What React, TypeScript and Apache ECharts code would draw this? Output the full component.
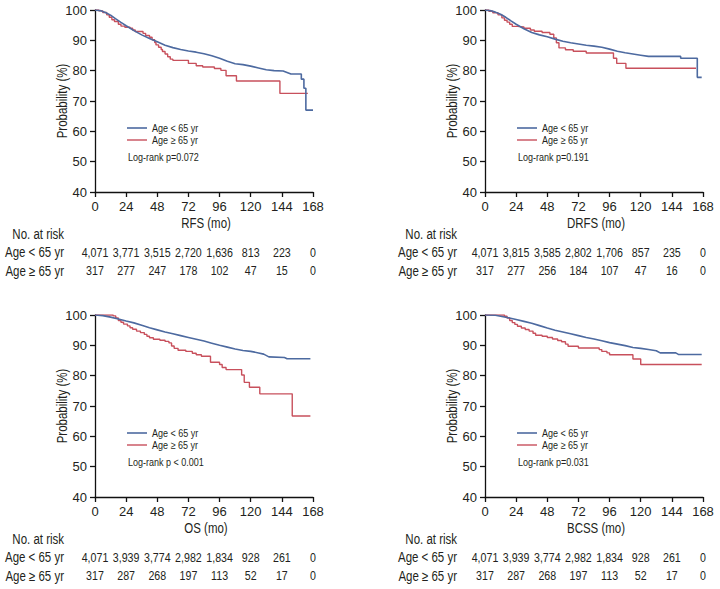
import React, { useEffect, useRef } from "react";
import * as echarts from "echarts";

// ---------- data ----------
const months = [0, 24, 48, 72, 96, 120, 144, 168];
const groupYoung = "Age < 65 yr";
const groupOld = "Age ≥ 65 yr";
const riskRows = ["No. at risk", groupYoung, groupOld];

// Kaplan–Meier curves: [month, survival %]
const rfsYoung = [[0,100],[4,99.8],[8,99.2],[12,98.3],[16,97.1],[20,95.9],[24,94.8],[30,93.2],[36,91.8],[42,90.6],[48,89.5],[54,88.4],[60,87.6],[66,87.0],[72,86.5],[78,86.1],[84,85.6],[90,84.9],[96,84.1],[102,83.1],[108,82.3],[114,82.0],[120,81.5],[126,80.9],[132,80.3],[138,80.0],[145,79.9],[148,79.4],[151,78.9],[159,78.9],[159,77.2],[161,77.2],[161,74.2],[162.5,74.2],[162.5,67.0],[168,67.0]];
const rfsOld = [[0,100],[3,99.7],[6,99.2],[9,98.4],[11,97.6],[13,96.8],[15,96.2],[18,95.3],[20,94.7],[23,94.3],[27,94.0],[29,93.4],[31,92.9],[37,92.3],[39,91.6],[42,91.0],[44,90.2],[46,89.3],[47,88.5],[49,87.7],[51,87.0],[52,86.3],[54,85.5],[56,84.6],[58,83.8],[60,83.4],[72,82.4],[78,81.6],[83,81.2],[92,80.7],[97,80.1],[101,78.3],[109,76.6],[142.5,72.5],[164,72.5]];

const drfsYoung = [[0,100],[4,99.8],[8,99.3],[12,98.6],[16,97.6],[20,96.4],[24,95.3],[30,93.8],[36,92.6],[42,91.8],[48,91.2],[54,90.4],[60,89.7],[66,89.2],[72,88.8],[78,88.4],[84,88.1],[90,87.7],[96,87.1],[102,86.4],[108,85.9],[114,85.5],[120,85.1],[126,84.7],[150.8,84.7],[150.8,84.1],[163.6,84.1],[163.6,77.8],[167,77.8]];
const drfsOld = [[0,100],[3,99.6],[6,99.1],[10,98.4],[13,97.4],[15,96.6],[17,96.0],[19,95.3],[21,94.6],[25,94.4],[30,94.0],[35,93.4],[38,93.0],[44,92.6],[50,92.0],[53,90.8],[55,89.2],[57,87.5],[62,86.9],[68,86.4],[78,85.8],[99,84.1],[101.5,82.4],[108.6,80.8],[162.6,80.8]];

const osYoung = [[0,100],[6,99.8],[12,99.3],[18,98.7],[24,98.0],[30,97.4],[36,96.6],[42,95.8],[48,95.1],[54,94.4],[60,93.8],[66,93.2],[72,92.6],[78,92.0],[84,91.4],[90,90.7],[96,90.0],[102,89.4],[108,88.8],[114,88.3],[120,88.0],[126,87.5],[130,87.1],[134,86.2],[146,86.0],[148,85.6],[166,85.6]];
const osOld = [[0,100],[14,99.7],[16,99.0],[18,98.2],[20,97.6],[22,97.0],[25,96.4],[27,95.8],[29,95.3],[32,94.7],[35,94.2],[38,93.6],[40,93.0],[42,92.5],[45,92.0],[50,91.7],[54,91.3],[57,90.8],[59,89.8],[61,89.0],[64,88.4],[70,88.0],[75,87.4],[78,86.9],[82,86.4],[89,84.4],[96,83.7],[98,82.7],[101,82.0],[113,80.2],[115,77.8],[119,76.2],[127,74.0],[152,66.7],[166,66.7]];

const bcssYoung = [[0,100],[8,99.9],[12,99.6],[18,99.1],[24,98.5],[30,97.9],[36,97.3],[42,96.5],[48,95.7],[54,95.0],[60,94.4],[66,93.8],[72,93.2],[78,92.6],[84,92.1],[90,91.5],[96,90.9],[102,90.4],[108,89.9],[114,89.3],[120,89.0],[126,88.6],[132,88.2],[135,87.5],[147,87.5],[149,87.0],[167,87.0]];
const bcssOld = [[0,100],[15,99.6],[17,99.0],[19,98.2],[21,97.5],[23,96.9],[25,96.3],[28,95.7],[31,95.2],[34,94.7],[37,94.0],[39,93.3],[44,93.0],[48,92.6],[52,92.1],[56,91.6],[59,91.2],[62,90.4],[64,89.7],[72,89.1],[88,88.6],[90,88.0],[94,87.5],[96,86.9],[114,85.5],[120,83.7],[167,83.7]];

// numbers at risk
const rfsRiskYoung = [4071, 3771, 3515, 2720, 1636, 813, 223, 0];
const rfsRiskOld = [317, 277, 247, 178, 102, 47, 15, 0];
const drfsRiskYoung = [4071, 3815, 3585, 2802, 1706, 857, 235, 0];
const drfsRiskOld = [317, 277, 256, 184, 107, 47, 16, 0];
const osRiskYoung = [4071, 3939, 3774, 2982, 1834, 928, 261, 0];
const osRiskOld = [317, 287, 268, 197, 113, 52, 17, 0];
const bcssRiskYoung = [4071, 3939, 3774, 2982, 1834, 928, 261, 0];
const bcssRiskOld = [317, 287, 268, 197, 113, 52, 17, 0];

const endpoints = ["RFS (mo)", "DRFS (mo)", "OS (mo)", "BCSS (mo)"];
const pValues = ["Log-rank p=0.072", "Log-rank p=0.191", "Log-rank p < 0.001", "Log-rank p=0.031"];
const yName = "Probability (%)";

// ---------- styling ----------
const BLUE = "#4d6aa0";
const RED = "#c8505c";
const TEXT = "#231f20";
const FONT = "'Liberation Sans', Arial, Helvetica, sans-serif";
const NARROW = 0.82;

const layouts = [
  { left: 95, top: 10, labelMargin: 31 },
  { left: 485, top: 10, labelMargin: 28 },
  { left: 95, top: 315, labelMargin: 31 },
  { left: 485, top: 315, labelMargin: 28 },
];
const PW = 218;
const PH = 182;

function txt(text: string, x: number, y: number, size: number, align: string, extra: any = {}) {
  return {
    type: "text", x, y, scaleX: NARROW, silent: true, ...extra,
    style: {
      text, fontSize: size, fontFamily: FONT, fill: TEXT,
      align, verticalAlign: "middle", textAlign: align, textVerticalAlign: "middle",
    },
  };
}

export default function App() {
  const ref = useRef<HTMLDivElement>(null);

  useEffect(() => {
    if (!ref.current) return;
    const chart = echarts.init(ref.current, undefined, { renderer: "svg" });

    const panels = [
      { young: rfsYoung, old: rfsOld, rY: rfsRiskYoung, rO: rfsRiskOld },
      { young: drfsYoung, old: drfsOld, rY: drfsRiskYoung, rO: drfsRiskOld },
      { young: osYoung, old: osOld, rY: osRiskYoung, rO: osRiskOld },
      { young: bcssYoung, old: bcssOld, rY: bcssRiskYoung, rO: bcssRiskOld },
    ];

    const grid: any[] = [];
    const xAxis: any[] = [];
    const yAxis: any[] = [];
    const series: any[] = [];
    const graphic: any[] = [];

    panels.forEach((p, i) => {
      const L = layouts[i];
      // plot grid
      grid.push({ left: L.left, top: L.top, width: PW, height: PH });
      xAxis.push({
        type: "value", gridIndex: 2 * i, min: 0, max: 168, interval: 24,
        axisLine: { show: true, lineStyle: { color: "#111", width: 1.3 } },
        axisTick: { show: true, length: 5, lineStyle: { color: "#111", width: 1.3 } },
        axisLabel: { fontSize: 13, color: TEXT, margin: 8, fontFamily: FONT },
        splitLine: { show: false },
      });
      yAxis.push({
        type: "value", gridIndex: 2 * i, min: 40, max: 100, interval: 10,
        axisLine: { show: true, lineStyle: { color: "#111", width: 1.3 } },
        axisTick: { show: true, length: 5, lineStyle: { color: "#111", width: 1.3 } },
        axisLabel: { fontSize: 13, color: TEXT, margin: 8, fontFamily: FONT },
        splitLine: { show: false },
      });
      // risk table grid
      grid.push({ left: L.left, top: L.top + 215, width: PW, height: 55 });
      xAxis.push({ type: "value", gridIndex: 2 * i + 1, min: 0, max: 168, show: false });
      yAxis.push({ type: "category", gridIndex: 2 * i + 1, data: riskRows, inverse: true, show: false });

      series.push({
        name: groupYoung, type: "line", xAxisIndex: 2 * i, yAxisIndex: 2 * i,
        data: p.young, showSymbol: false, symbol: "none",
        lineStyle: { color: BLUE, width: 1.6 }, itemStyle: { color: BLUE }, z: 3,
      });
      series.push({
        name: groupOld, type: "line", step: "end", xAxisIndex: 2 * i, yAxisIndex: 2 * i,
        data: p.old, showSymbol: false, symbol: "none",
        lineStyle: { color: RED, width: 1.4 }, itemStyle: { color: RED }, z: 2,
      });

      // numbers at risk, placed through the table grid's scales
      const riskData: any[] = [];
      months.forEach((m, k) => {
        riskData.push([m, 1, p.rY[k]]);
        riskData.push([m, 2, p.rO[k]]);
      });
      series.push({
        name: "risk" + i, type: "custom", xAxisIndex: 2 * i + 1, yAxisIndex: 2 * i + 1,
        data: riskData, clip: false, silent: true,
        renderItem: (params: any, api: any) => {
          const pt = api.coord([api.value(0), api.value(1)]);
          return txt(Number(api.value(2)).toLocaleString("en-US"), pt[0], pt[1], 13, "center");
        },
      });
      // row labels of the table
      series.push({
        name: "rows" + i, type: "custom", xAxisIndex: 2 * i + 1, yAxisIndex: 2 * i + 1,
        data: riskRows.map((_, r) => [0, r]), clip: false, silent: true,
        renderItem: (params: any, api: any) => {
          const pt = api.coord([api.value(0), api.value(1)]);
          return txt(riskRows[params.dataIndex], pt[0] - L.labelMargin, pt[1], 14, "right");
        },
      });

      // axis names
      graphic.push(txt(endpoints[i], L.left + PW / 2 + 2, L.top + PH + 31, 14, "center"));
      graphic.push(txt(yName, L.left - 33, L.top + PH / 2, 14, "center", { rotation: Math.PI / 2 }));

      // legend
      const lx = L.left + 32;
      const ly = L.top + 118;
      graphic.push({ type: "line", silent: true, shape: { x1: lx, y1: ly, x2: lx + 20, y2: ly }, style: { stroke: BLUE, lineWidth: 1.6 } });
      graphic.push({ type: "line", silent: true, shape: { x1: lx, y1: ly + 12, x2: lx + 20, y2: ly + 12 }, style: { stroke: RED, lineWidth: 1.4 } });
      graphic.push(txt(groupYoung, lx + 25, ly, 11, "left"));
      graphic.push(txt(groupOld, lx + 25, ly + 12, 11, "left"));
      graphic.push(txt(pValues[i], lx + 1, ly + 29, 11, "left"));
    });

    chart.setOption({
      animation: false,
      backgroundColor: "#fff",
      textStyle: { fontFamily: FONT },
      grid, xAxis, yAxis, series, graphic,
    });

    return () => chart.dispose();
  }, []);

  return (
    <div
      ref={ref}
      style={{ position: "fixed", left: 0, top: 0, width: 720, height: 589, background: "#fff" }}
    />
  );
}
